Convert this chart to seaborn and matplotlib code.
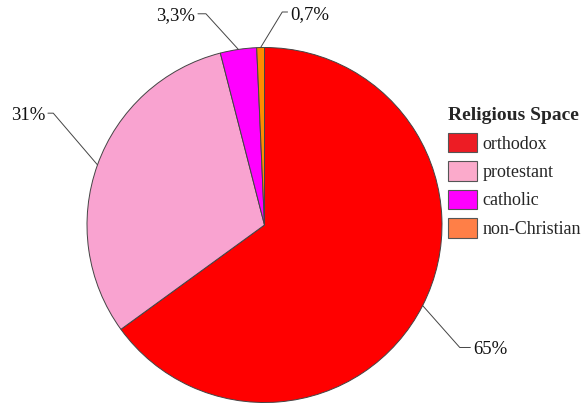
import numpy as np
import matplotlib
matplotlib.use('Agg')
import matplotlib.pyplot as plt
import seaborn as sns
from matplotlib.patches import Patch

religions = ['orthodox', 'protestant', 'catholic', 'non-Christian']
shares = [65, 31, 3.3, 0.7]
pct_labels = ['65%', '31%', '3,3%', '0,7%']
wedge_colors = ['#ff0000', '#f9a3d0', '#ff00ff', '#ff8c00']
legend_colors = ['#ed1c24', '#fbaacb', '#ff00ff', '#ff7f47']

sns.set_theme(style='white')
plt.rcParams['font.family'] = ['Liberation Serif', 'DejaVu Serif']

fig = plt.figure(figsize=(5.88, 4.05), dpi=100)
ax = fig.add_axes([87 / 588, 2 / 405, 355 / 588, 356 / 405])

wedges, _ = ax.pie(shares, colors=wedge_colors, startangle=90, counterclock=False,
                   wedgeprops=dict(edgecolor='#444444', linewidth=0.7))
ax.set_xlim(-1.0, 1.0)
ax.set_ylim(-1.0, 1.0)
ax.set_aspect('equal')

# leader lines: elbow position, horizontal tail and text side for each slice
elbows = [(1.10, -0.69), (-1.19, 0.63), (-0.33, 1.19), (0.10, 1.20)]
tails = [0.06, 0.03, 0.045, 0.03]
sides = [1, -1, -1, 1]
for w, lab, (ex, ey), t, s in zip(wedges, pct_labels, elbows, tails, sides):
    ang = np.deg2rad((w.theta1 + w.theta2) / 2)
    x0, y0 = np.cos(ang), np.sin(ang)
    x1 = ex + s * t
    ax.plot([x0, ex, x1], [y0, ey, ey], color='#444444', lw=0.7, clip_on=False)
    ax.text(x1 + s * 0.015, ey - 0.012, lab, ha='left' if s > 0 else 'right', va='center',
            fontsize=13.5, color='#111111', clip_on=False)

handles = [Patch(facecolor=c, edgecolor='#555555', linewidth=0.8) for c in legend_colors]
leg = fig.legend(handles, religions, loc='upper left', bbox_to_anchor=(0.762, 0.735),
                 frameon=False, title='Religious Space', alignment='left',
                 fontsize=13, handlelength=1.6, handleheight=1.3, handletextpad=0.3,
                 labelspacing=0.47, borderpad=0, borderaxespad=0)
leg.get_title().set_fontweight('bold')
leg.get_title().set_fontsize(14)

fig.savefig('out.png', dpi=100)
